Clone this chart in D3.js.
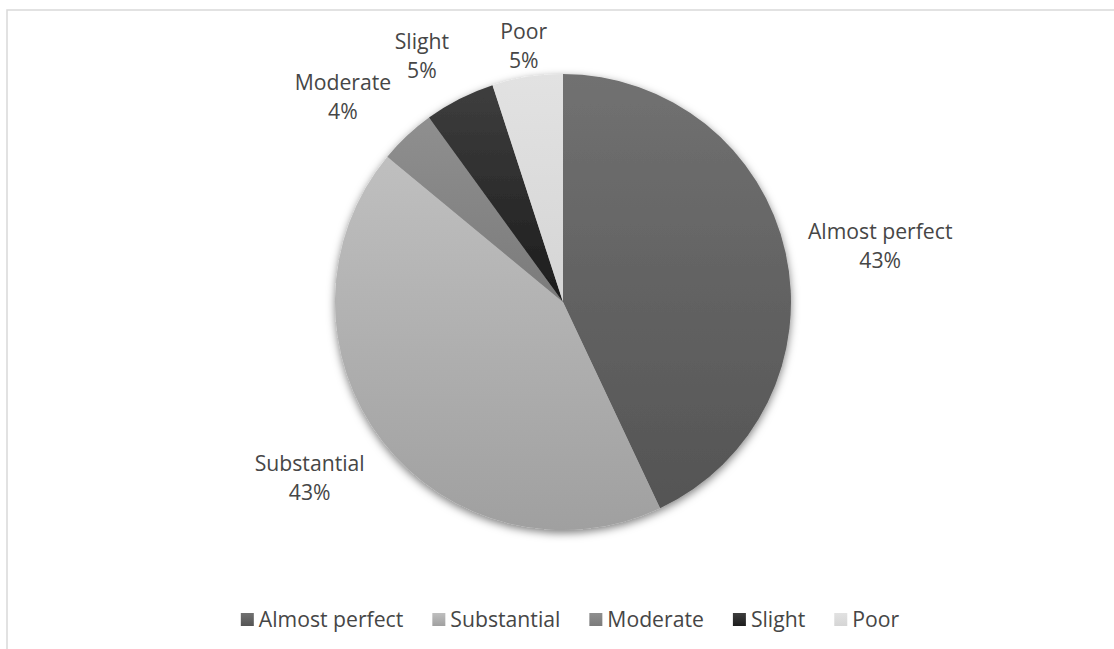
<!DOCTYPE html>
<html>
<head>
<meta charset="utf-8">
<script src="https://cdn.jsdelivr.net/npm/d3@7/dist/d3.min.js"></script>
<style>
  html, body { margin: 0; padding: 0; background: #ffffff; }
  svg { display: block; }
  text { font-family: "Open Sans", "Noto Sans", sans-serif; fill: #464646; }
</style>
</head>
<body>
<svg id="chart" width="1114" height="649"></svg>
<script>
// Agreement categories and their share of ratings (percent)
const categories = ["Almost perfect", "Substantial", "Moderate", "Slight", "Poor"];
const shares = [43, 43, 4, 5, 5];
// Top and bottom shade of each slice's vertical gradient
const shadeTop = ["#717171", "#bfbfbf", "#8f8f8f", "#3e3e3e", "#e2e2e2"];
const shadeBottom = ["#545454", "#a0a0a0", "#7b7b7b", "#1c1c1c", "#d5d5d5"];

const W = 1114, H = 649;
const cx = 563, cy = 302, radius = 228;
const fontSize = 21.2, lineGap = 29, capH = 15;

const svg = d3.select("#chart");
const defs = svg.append("defs");

// Soft shadow under the pie
const shadow = defs.append("filter").attr("id", "pieShadow")
  .attr("x", "-20%").attr("y", "-20%").attr("width", "140%").attr("height", "140%");
shadow.append("feDropShadow")
  .attr("dx", 0).attr("dy", 3).attr("stdDeviation", 4)
  .attr("flood-color", "#000").attr("flood-opacity", 0.5);

categories.forEach((c, i) => {
  const g = defs.append("linearGradient").attr("id", "grad" + i)
    .attr("x1", 0).attr("y1", 0).attr("x2", 0).attr("y2", 1);
  g.append("stop").attr("offset", "0%").attr("stop-color", shadeTop[i]);
  g.append("stop").attr("offset", "100%").attr("stop-color", shadeBottom[i]);
});

// Chart area frame
svg.append("rect")
  .attr("x", 7).attr("y", 10).attr("width", W + 40).attr("height", H + 40)
  .attr("fill", "none").attr("stroke", "#d9d9d9").attr("stroke-width", 1.5);

const pie = d3.pie().sort(null).value(d => d)(shares);
const arc = d3.arc().innerRadius(0).outerRadius(radius);

const pieG = svg.append("g")
  .attr("transform", `translate(${cx},${cy})`)
  .attr("filter", "url(#pieShadow)");

pieG.selectAll("path")
  .data(pie)
  .join("path")
  .attr("d", arc)
  .attr("fill", (d, i) => `url(#grad${i})`);

// Data labels outside each slice: name on the first line, percent below.
// An anchor point sits a fixed gap beyond the rim on the mid-angle; the
// label box hangs off that point on the side facing away from the pie,
// then is kept inside the frame.
const labelG = svg.append("g").attr("transform", `translate(${cx},${cy})`);
const fmt = d3.format(".0%");
const total = d3.sum(shares);
const gap = 23, topLimit = 24 - cy;
const frac = v => Math.max(0, Math.min(1, (Math.abs(v) - 0.2) / 0.25));

pie.forEach((d, i) => {
  const mid = (d.startAngle + d.endAngle) / 2;
  const s = Math.sin(mid), c = -Math.cos(mid);
  const g = labelG.append("g");
  const t1 = g.append("text").attr("text-anchor", "middle")
    .style("font-size", fontSize + "px").text(categories[i]);
  const t2 = g.append("text").attr("text-anchor", "middle")
    .style("font-size", fontSize + "px").text(fmt(d.data / total));
  const w = Math.max(t1.node().getComputedTextLength(), t2.node().getComputedTextLength());
  const h = capH + lineGap;
  const px = s * (radius + gap), py = c * (radius + gap);
  const x = px + Math.sign(s) * frac(s) * w / 2;
  let yc = py + Math.sign(c) * frac(c) * h / 2;
  if (yc - h / 2 < topLimit) yc = topLimit + h / 2;
  const b1 = yc - h / 2 + capH;
  t1.attr("x", x).attr("y", b1);
  t2.attr("x", x).attr("y", b1 + lineGap);
});

// Legend along the bottom, centred under the pie
const legend = svg.append("g");
const sq = 13, sqGap = 5, itemGap = 29, legendBase = 627;
let xPos = 0;
categories.forEach((c, i) => {
  const it = legend.append("g");
  it.append("rect").attr("x", 0).attr("y", legendBase - sq - 1)
    .attr("width", sq).attr("height", sq).attr("fill", `url(#grad${i})`);
  const t = it.append("text").attr("x", sq + sqGap).attr("y", legendBase)
    .style("font-size", fontSize + "px").text(c);
  const wItem = sq + sqGap + t.node().getComputedTextLength();
  it.attr("transform", `translate(${xPos},0)`);
  xPos += wItem + itemGap;
});
const legendWidth = xPos - itemGap;
legend.attr("transform", `translate(${cx + 7 - legendWidth / 2},0)`);
</script>
</body>
</html>
